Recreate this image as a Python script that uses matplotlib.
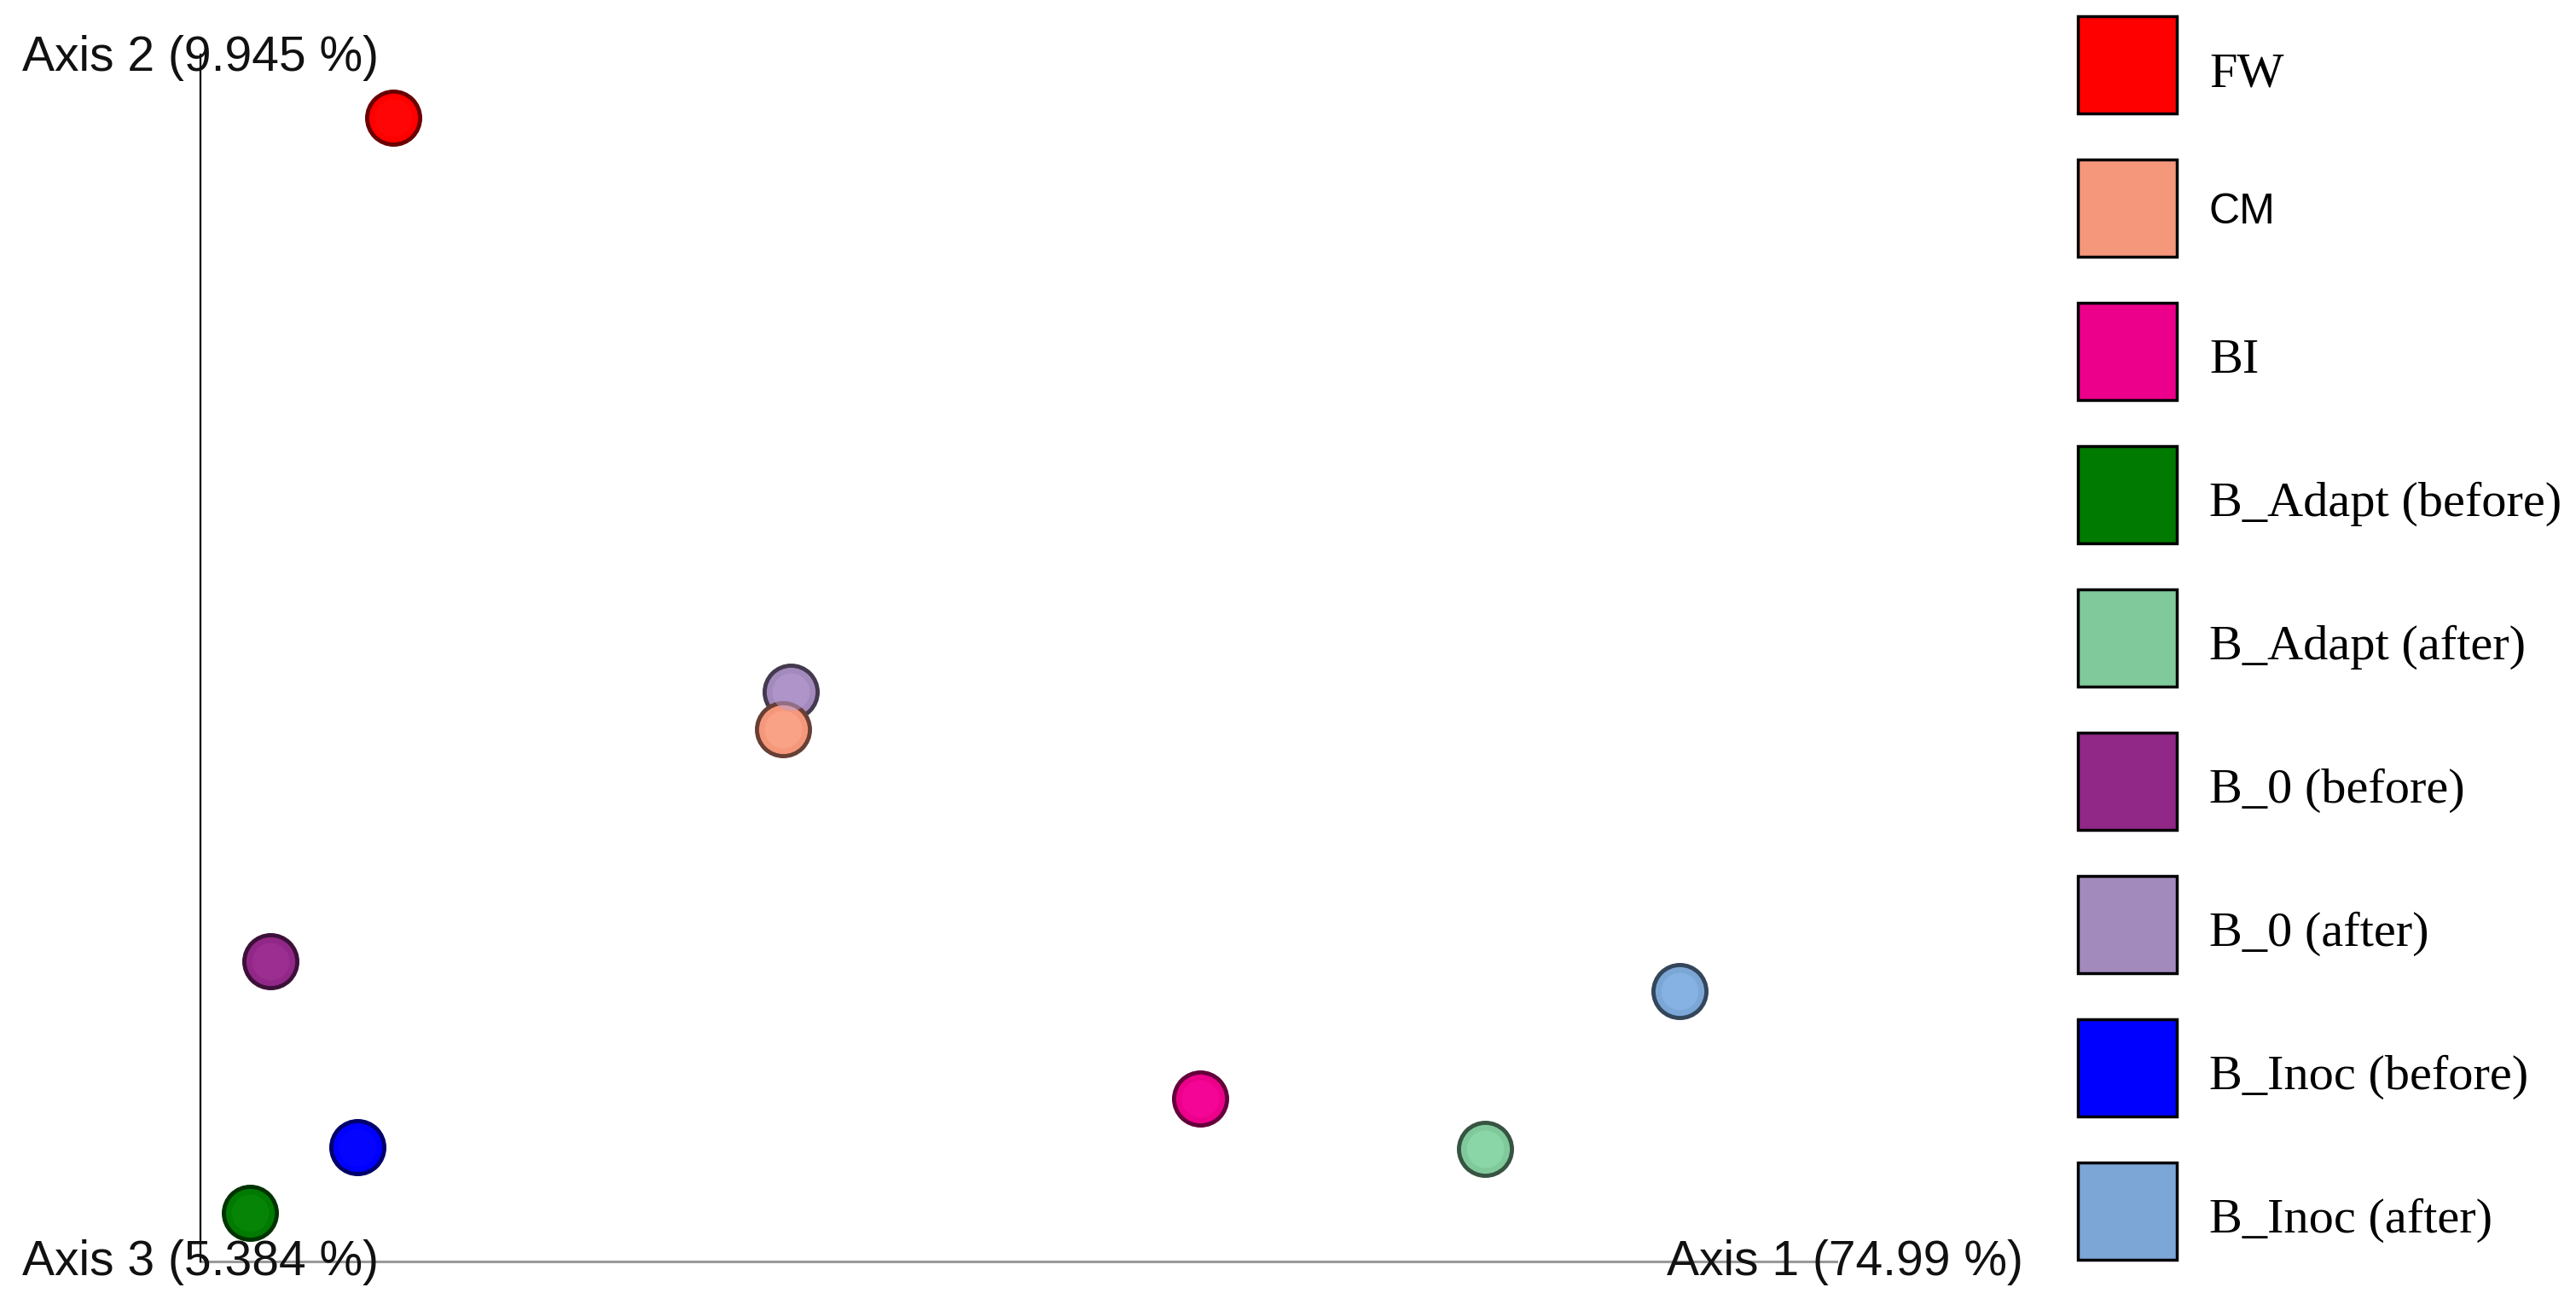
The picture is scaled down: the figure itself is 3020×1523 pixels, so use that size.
import numpy as np
import matplotlib
matplotlib.use("Agg")
import matplotlib.pyplot as plt
from matplotlib.patches import Rectangle
from matplotlib.colors import to_rgb

# Sample groups and their colours (legend order)
groups = ["FW", "CM", "BI", "B_Adapt (before)", "B_Adapt (after)",
          "B_0 (before)", "B_0 (after)", "B_Inoc (before)", "B_Inoc (after)"]
colors = ["#ff0000", "#f5977b", "#ec008b", "#007a00", "#80c99b",
          "#912787", "#a38abd", "#0000ff", "#7ba6d6"]

# Projected PCoA positions (fraction of the drawn axis length)
axis1 = [0.118, 0.356, 0.611, 0.030, 0.785, 0.043, 0.361, 0.096, 0.904]
axis2 = [0.948, 0.441, 0.135, 0.040, 0.093, 0.249, 0.472, 0.095, 0.224]

# drawing order (back to front)
draw_order = [6, 1, 0, 2, 3, 4, 5, 7, 8]

W, H = 3020, 1523
fig = plt.figure(figsize=(W / 100, H / 100), dpi=100)

# main plot area: origin at the axis 2 / axis 3 corner
left, bottom, right, top = 235, 1479, 2153, 64
ax = fig.add_axes([left / W, 1 - bottom / H, (right - left) / W, (bottom - top) / H])
ax.set_xlim(0, 1)
ax.set_ylim(0, 1)
ax.axis("off")

ax.plot([0, 1], [0, 0], color="#9a9a9a", lw=2.2, clip_on=False, zorder=1)
ax.plot([0, 0], [0, 1], color="black", lw=1.6, clip_on=False, zorder=1)

for i in draw_order:
    c = np.array(to_rgb(colors[i]))
    ax.scatter(axis1[i], axis2[i], s=2000, color=c, edgecolor=c * 0.42,
               linewidth=3.5, clip_on=False, zorder=3)
    # faint highlight to mimic the shaded sphere
    ax.scatter(axis1[i], axis2[i], s=1000, color=np.minimum(c * 1.08 + 0.04, 1),
               linewidth=0, alpha=0.5, clip_on=False, zorder=4)

lab = dict(fontsize=41, family="Liberation Sans", color="#111111",
           ha="center", va="center", zorder=2)
ax.text(0, 0.997, "Axis 2 (9.945 %)", transform=ax.transAxes, **lab)
ax.text(0, -0.001, "Axis 3 (5.384 %)", transform=ax.transAxes, **lab)
ax.text(1.005, -0.001, "Axis 1 (74.99 %)", transform=ax.transAxes, **lab)

# legend drawn in pixel space on the right
lx0 = 2400
lax = fig.add_axes([lx0 / W, 0, (W - lx0) / W, 1])
lax.set_xlim(0, W - lx0)
lax.set_ylim(H, 0)
lax.axis("off")

pitch = 168
for k, (g, c) in enumerate(zip(groups, colors)):
    y0 = 19 + k * pitch
    lax.add_patch(Rectangle((36, y0), 116, 114, facecolor=c,
                            edgecolor="black", lw=2.5))
    if g == "CM":
        lax.text(190, y0 + 62, g, fontsize=36, family="Liberation Sans",
                 va="center", ha="left")
    else:
        lax.text(190, y0 + 68, g, fontsize=42, family="Liberation Serif",
                 va="center", ha="left")

fig.savefig("out.png", dpi=100, facecolor="white")
